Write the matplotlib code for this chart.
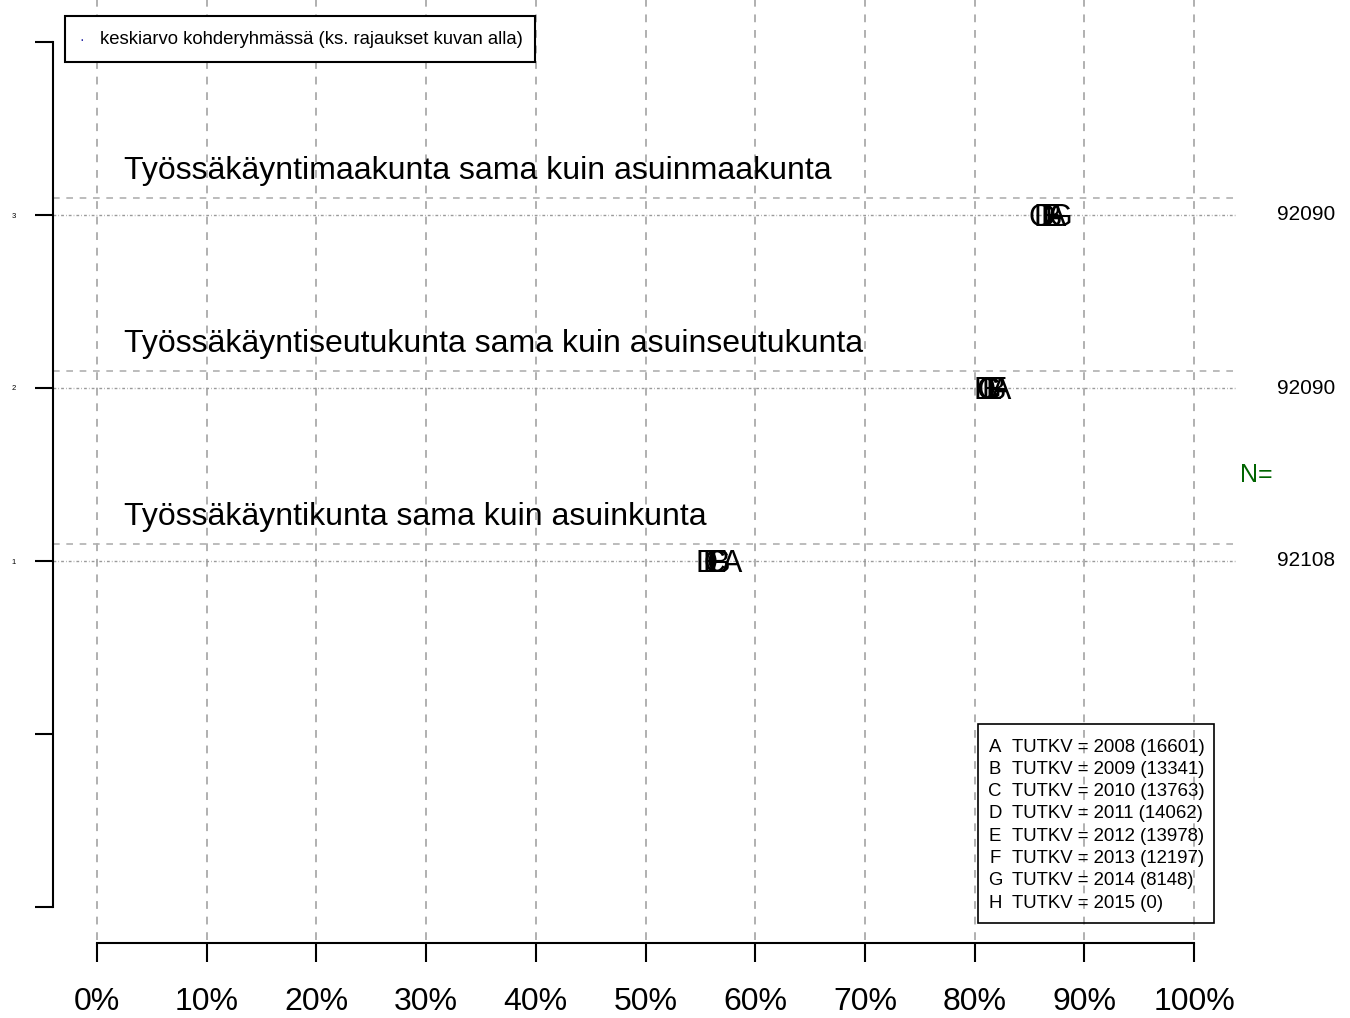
import numpy as np
import matplotlib.pyplot as plt
from matplotlib.patches import Rectangle

plt.rcParams['font.family'] = ['Liberation Sans', 'DejaVu Sans']

# rivit alhaalta ylos
kategoriat = [
    "Työssäkäyntikunta sama kuin asuinkunta",
    "Työssäkäyntiseutukunta sama kuin asuinseutukunta",
    "Työssäkäyntimaakunta sama kuin asuinmaakunta",
]
n_arvot = [92108, 92090, 92090]

kirjaimet = ["A", "B", "C", "D", "E", "F", "G", "H"]
vuodet = [2008, 2009, 2010, 2011, 2012, 2013, 2014, 2015]
lukumaarat = [16601, 13341, 13763, 14062, 13978, 12197, 8148, 0]

# osuudet (%) vuosittain, H puuttuu (0 havaintoa)
kunta = [57.9, 56.8, 56.3, 55.6, 56.1, 56.5, 56.6, None]
seutukunta = [82.4, 81.9, 81.2, 80.9, 81.6, 82.0, 81.3, None]
maakunta = [87.4, 87.0, 85.9, 86.4, 86.9, 87.2, 87.8, None]
osuudet = [kunta, seutukunta, maakunta]

x_ticks = [0, 10, 20, 30, 40, 50, 60, 70, 80, 90, 100]
x_labels = [f"{t}%" for t in x_ticks]

W, H = 1350, 1018
fig = plt.figure(figsize=(W / 100, H / 100), dpi=100)

# akselialue pikseleinä
left_px, right_px = 53, 1237
top_px, bottom_px = 0, 940
ax = fig.add_axes([left_px / W, 1 - bottom_px / H,
                   (right_px - left_px) / W, (bottom_px - top_px) / H])

px_per_x = (1194 - 97) / 100.0
px_per_y = (907 - 42) / 5.0
xmin = (left_px - 97) / px_per_x
xmax = (right_px - 97) / px_per_x
ymax = 4 + (42 - top_px) / px_per_y
ymin = 4 - (bottom_px - 42) / px_per_y
ax.set_xlim(xmin, xmax)
ax.set_ylim(ymin, ymax)

harmaa = "#b0b0b0"
for t in x_ticks:
    ax.axvline(t, color=harmaa, linestyle=(0, (4, 4)), linewidth=1.4, zorder=1)

for i, (nimi, arvot, n) in enumerate(zip(kategoriat, osuudet, n_arvot)):
    y = i + 1
    ax.axhline(y, color="#9a9a9a", linestyle=(0, (2, 1.5, 0.5, 1.5)), linewidth=1.0, zorder=1)
    ax.axhline(y + 0.1, color=harmaa, linestyle=(0, (4, 4)), linewidth=1.2, zorder=1)
    ax.text(2.5, y + 0.255, nimi, fontsize=23, ha="left", va="center", zorder=3)
    for k, v in zip(kirjaimet, arvot):
        if v is None:
            continue
        ax.text(v, y - 0.015, k, fontsize=22, ha="center", va="center", zorder=4)
    ax.text(1335 / W, 1 - (215 + (3 - y) * px_per_y) / H, str(n), transform=fig.transFigure,
            fontsize=15, ha="right", va="center")

fig.text(1256 / W, 1 - 475 / H, "N=", color="#006400", fontsize=18, ha="center", va="center")

# akselit R-tyyliin
for s in ["top", "right"]:
    ax.spines[s].set_visible(False)
ax.spines["left"].set_position(("outward", 0))
ax.spines["left"].set_bounds(-1, 4)
ax.spines["bottom"].set_position(("outward", 2))
ax.spines["bottom"].set_bounds(0, 100)
ax.spines["left"].set_linewidth(1.5)
ax.spines["bottom"].set_linewidth(1.5)

ax.set_xticks(x_ticks)
ax.set_xticklabels(x_labels, fontsize=23)
ax.tick_params(axis="x", length=14, width=1.5, pad=18)
ax.set_yticks([-1, 0, 1, 2, 3, 4])
ax.set_yticklabels(["", "", "1", "2", "3", ""], fontsize=5.5)
ax.tick_params(axis="y", length=13, width=1.5, pad=14)

# ylalegenda
fig.patches.append(Rectangle((65 / W, 1 - 62 / H), (535 - 65) / W, (62 - 16) / H,
                             transform=fig.transFigure, fill=True, facecolor="white",
                             edgecolor="black", linewidth=1.5, zorder=5))
fig.text(82 / W, 1 - 40 / H, "·", color="#1a1aa0", fontsize=10, ha="center", va="center", zorder=6)
fig.text(100 / W, 1 - 40 / H, "keskiarvo kohderyhmässä (ks. rajaukset kuvan alla)",
         fontsize=13.3, ha="left", va="center", zorder=6)

# vuosilegenda
fig.patches.append(Rectangle((978 / W, 1 - 923 / H), (1214 - 978) / W, (923 - 724) / H,
                             transform=fig.transFigure, fill=False,
                             edgecolor="black", linewidth=1.2, zorder=5))
for j, (k, v, c) in enumerate(zip(kirjaimet, vuodet, lukumaarat)):
    yy = 1 - (747 + j * 22.3) / H
    fig.text(995 / W, yy, k, fontsize=13.4, ha="center", va="center")
    fig.text(1012 / W, yy, f"TUTKV = {v} ({c})", fontsize=13.4, ha="left", va="center")

fig.savefig("out.png", dpi=100)
